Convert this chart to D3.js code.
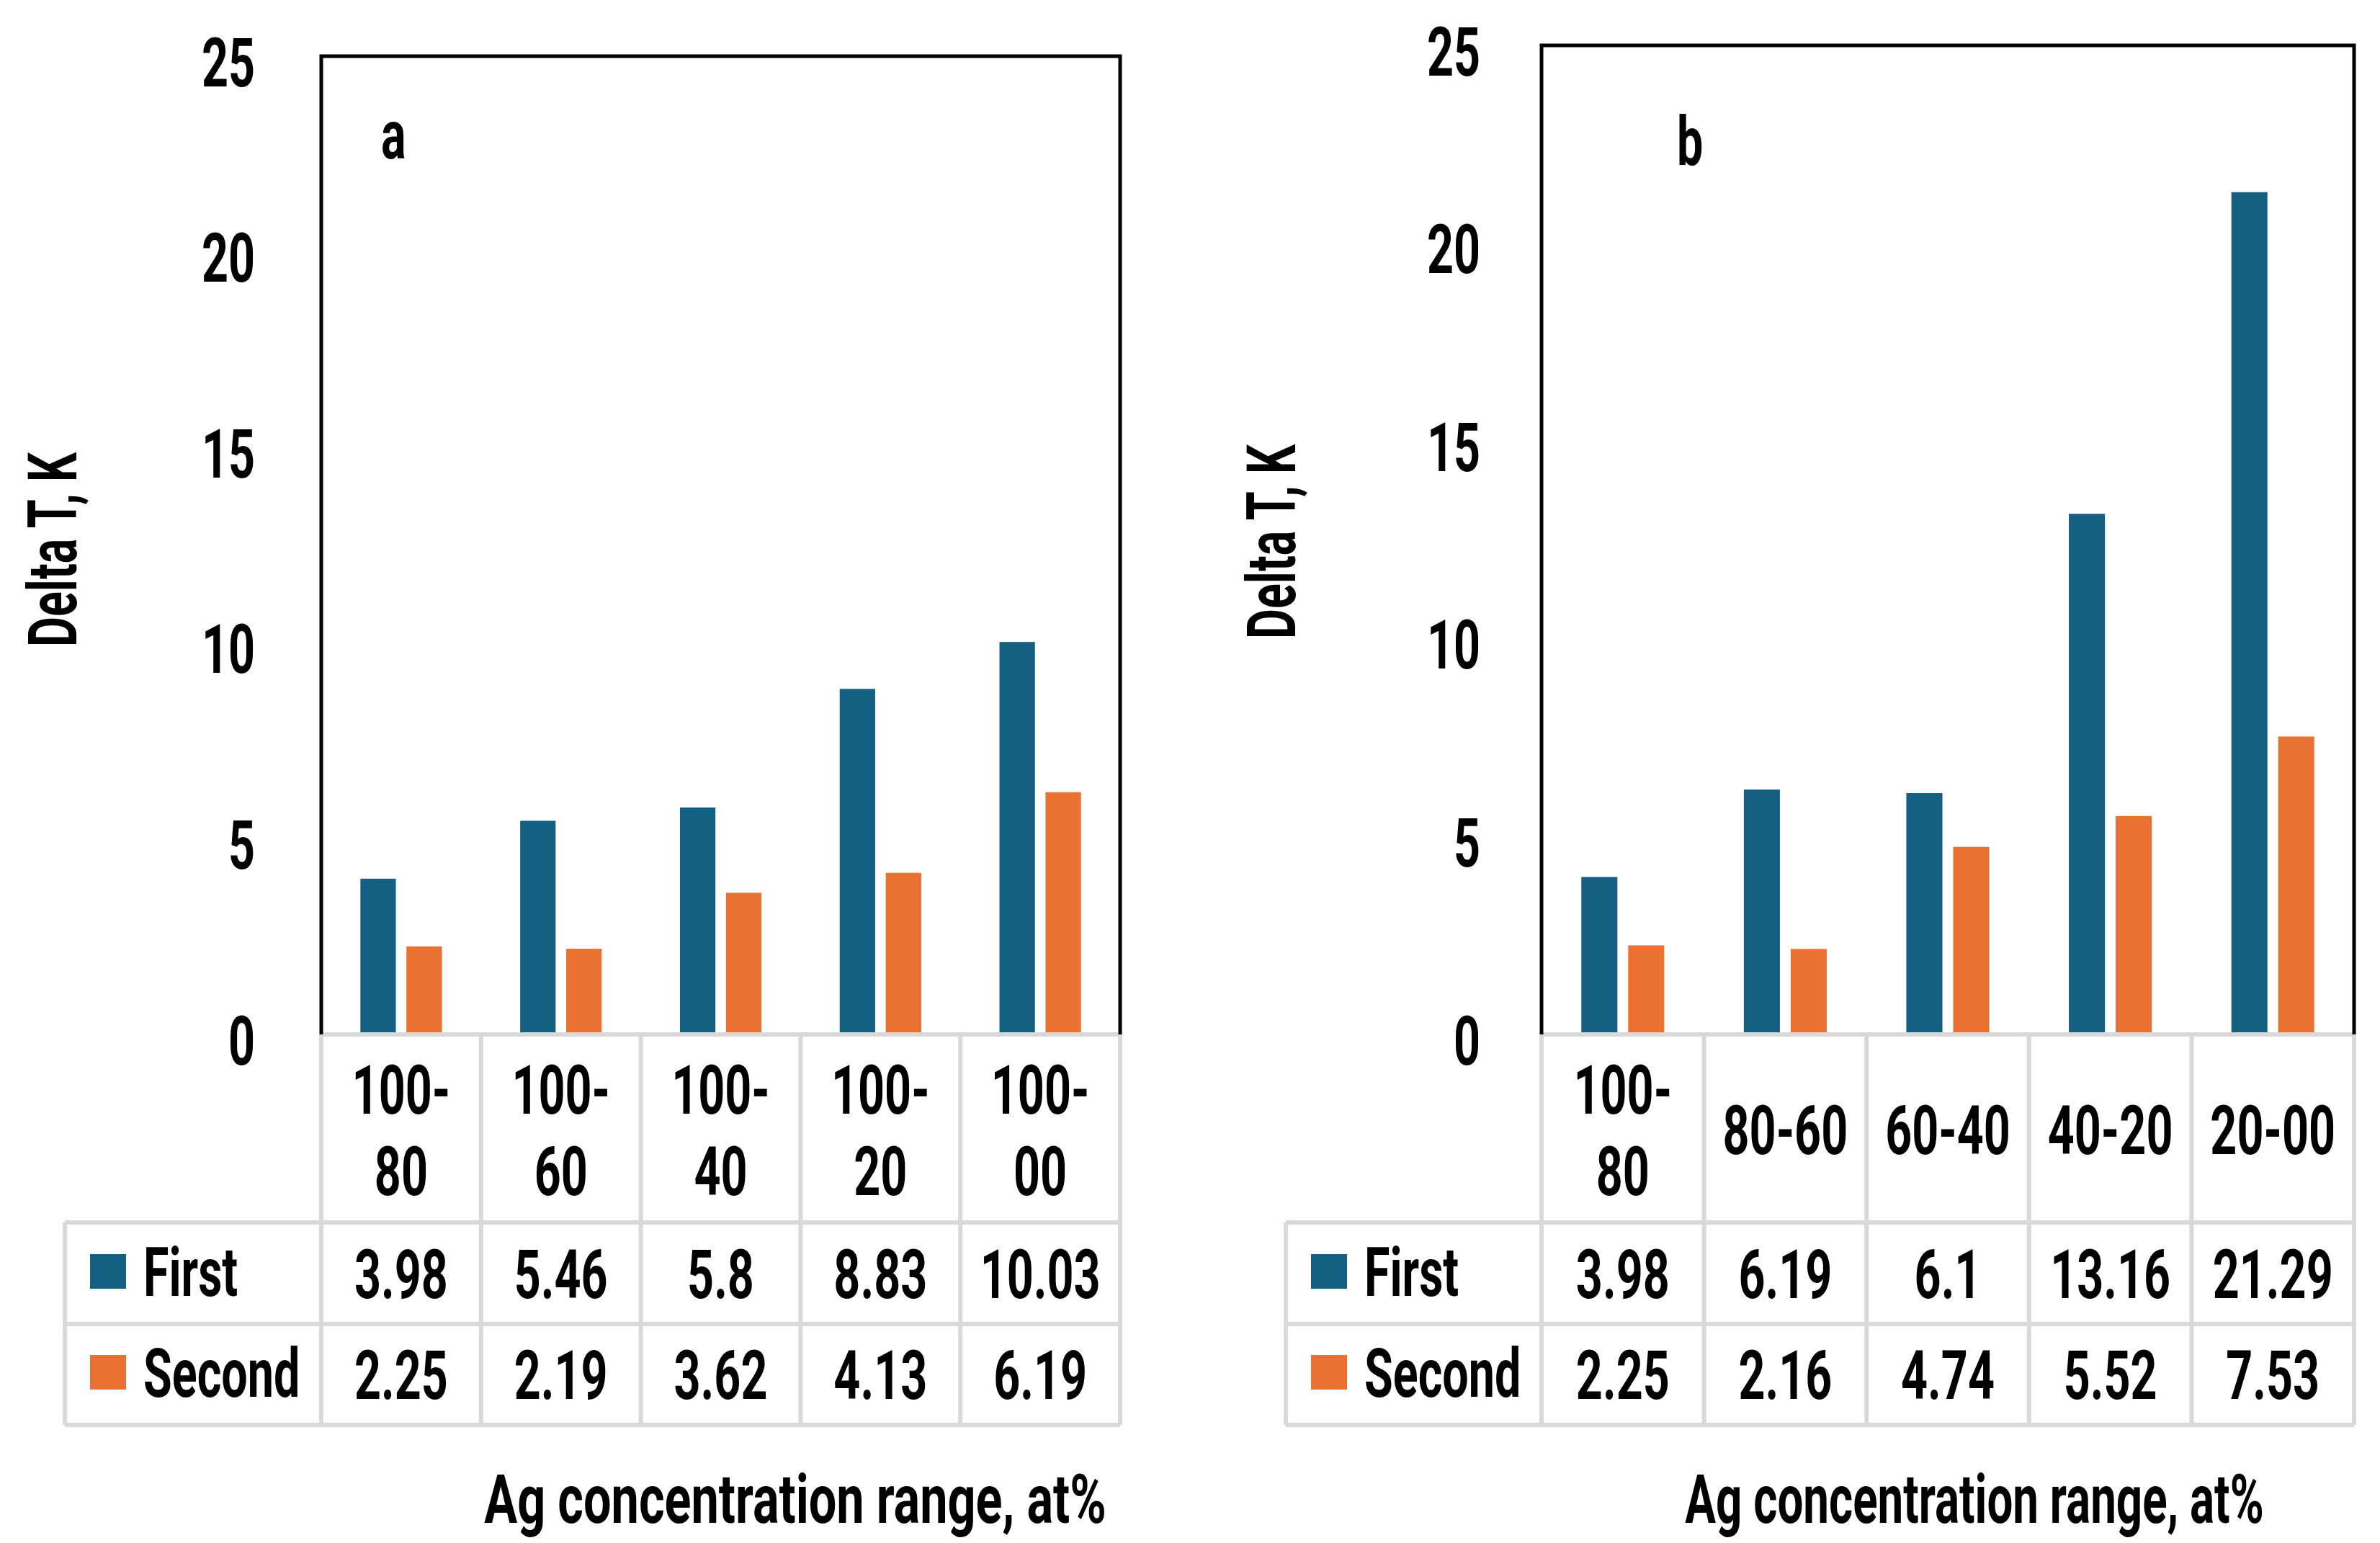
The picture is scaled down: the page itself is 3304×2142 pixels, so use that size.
<!DOCTYPE html>
<html>
<head>
<meta charset="utf-8">
<script src="https://cdn.jsdelivr.net/npm/d3@7"></script>
<style>
  body { margin: 0; background: #fff; }
  svg text { font-family: Roboto, "Noto Sans", sans-serif; font-weight: 700; fill: #000; }
</style>
</head>
<body>
<svg id="chart" width="3304" height="2142"></svg>
<script>
// data
const seriesNames = ["First", "Second"];
const yTicks = [0, 5, 10, 15, 20, 25];

const catsA = [["100-", "80"], ["100-", "60"], ["100-", "40"], ["100-", "20"], ["100-", "00"]];
const firstA = [3.98, 5.46, 5.8, 8.83, 10.03];
const secondA = [2.25, 2.19, 3.62, 4.13, 6.19];

const catsB = [["100-", "80"], ["80-60"], ["60-40"], ["40-20"], ["20-00"]];
const firstB = [3.98, 6.19, 6.1, 13.16, 21.29];
const secondB = [2.25, 2.16, 4.74, 5.52, 7.53];

const colors = ["#156082", "#E97132"];
const gridColor = "#d9d9d9";
const fs = 95;      // font size
const sx = 0.68;    // condensed look

const svg = d3.select("#chart");

// helper: text with horizontal squeeze
function label(g, x, y, str, anchor, squeeze) {
  return g.append("text")
    .attr("transform", `translate(${x},${y}) scale(${squeeze || sx},1)`)
    .attr("text-anchor", anchor || "middle")
    .attr("font-size", fs)
    .text(str);
}

const panels = [
  { tag: "a", cats: catsA, first: firstA, second: secondA,
    left: 446, right: 1555, top: 78, zero: 1436, tableLeft: 90,
    tickX: 354, yTitle: [106, 763], tagPos: [529, 220], xTitle: [1104, 2114], titleSx: 0.72 },
  { tag: "b", cats: catsB, first: firstB, second: secondB,
    left: 2140, right: 3268, top: 63, zero: 1436, tableLeft: 1785,
    tickX: 2055, yTitle: [1798, 752], tagPos: [2328, 229], xTitle: [2741, 2114], titleSx: 0.67 }
];

const rowLines = [1697, 1838, 1978];

panels.forEach(function(p) {
  const g = svg.append("g");
  const names = p.cats.map(d => d.join(""));

  const y = d3.scaleLinear().domain([0, 25]).range([p.zero, p.top]);
  const x0 = d3.scaleBand().domain(names).range([p.left, p.right]);
  const x1 = d3.scaleBand().domain(seriesNames).range([0, x0.bandwidth()])
    .paddingInner(0.23).paddingOuter(0.85);

  const rows = names.map((n, i) => ({ name: n, values: [p.first[i], p.second[i]] }));

  // bars
  g.selectAll(".grp")
    .data(rows)
    .join("g")
    .attr("class", "grp")
    .attr("transform", d => `translate(${x0(d.name)},0)`)
    .selectAll("rect")
    .data(d => d.values.map((v, k) => ({ key: seriesNames[k], v: v, k: k })))
    .join("rect")
    .attr("x", d => x1(d.key))
    .attr("width", x1.bandwidth())
    .attr("y", d => y(d.v))
    .attr("height", d => y(0) - y(d.v))
    .attr("fill", d => colors[d.k]);

  // data table grid
  const grid = g.append("g").attr("stroke", gridColor).attr("stroke-width", 6);
  grid.append("line").attr("x1", p.left).attr("x2", p.right).attr("y1", y(0)).attr("y2", y(0));
  rowLines.forEach(function(ry) {
    grid.append("line").attr("x1", p.tableLeft).attr("x2", p.right).attr("y1", ry).attr("y2", ry);
  });
  grid.append("line").attr("x1", p.tableLeft).attr("x2", p.tableLeft)
    .attr("y1", rowLines[0]).attr("y2", rowLines[2]);
  names.concat(["__end"]).forEach(function(n, i) {
    const bx = i < names.length ? x0(n) : p.right;
    grid.append("line").attr("x1", bx).attr("x2", bx).attr("y1", y(0)).attr("y2", rowLines[2]);
  });

  // plot area border (top and sides)
  g.append("path")
    .attr("d", `M${p.left},${y(0)}V${y(25)}H${p.right}V${y(0)}`)
    .attr("fill", "none").attr("stroke", "#000").attr("stroke-width", 5);

  // y axis
  const axis = g.append("g")
    .attr("transform", `translate(${p.tickX},0)`)
    .call(d3.axisLeft(y).tickValues(yTicks).tickSize(0).tickPadding(0));
  axis.select(".domain").remove();
  axis.selectAll("text")
    .attr("x", null).attr("dy", null)
    .attr("transform", `translate(0,41) scale(${sx},1)`)
    .attr("text-anchor", "end")
    .attr("font-size", fs)
    .attr("font-family", null)
    .attr("fill", "#000");

  // category labels in table header
  rows.forEach(function(r, i) {
    const cx = x0(r.name) + x0.bandwidth() / 2;
    const lines = p.cats[i];
    if (lines.length === 2) {
      label(g, cx, 1546, lines[0]);
      label(g, cx, 1659, lines[1]);
    } else {
      label(g, cx, 1602, lines[0]);
    }
    label(g, cx, 1802, String(r.values[0]));
    label(g, cx, 1942, String(r.values[1]));
  });

  // legend keys in the table
  seriesNames.forEach(function(s, k) {
    const cy = k === 0 ? 1765 : 1905;
    g.append("rect")
      .attr("x", p.tableLeft + 35).attr("y", cy - 24)
      .attr("width", 50).attr("height", 48)
      .attr("fill", colors[k]);
    label(g, p.tableLeft + 109, cy + 34, s, "start");
  });

  // panel tag
  label(g, p.tagPos[0], p.tagPos[1], p.tag, "start");

  // axis titles
  g.append("text")
    .attr("transform", `translate(${p.yTitle[0]},${p.yTitle[1]}) rotate(-90) scale(${sx},1)`)
    .attr("text-anchor", "middle")
    .attr("font-size", fs)
    .text("Delta T, K");
  label(g, p.xTitle[0], p.xTitle[1], "Ag concentration range, at%", "middle", p.titleSx);
});
</script>
</body>
</html>
